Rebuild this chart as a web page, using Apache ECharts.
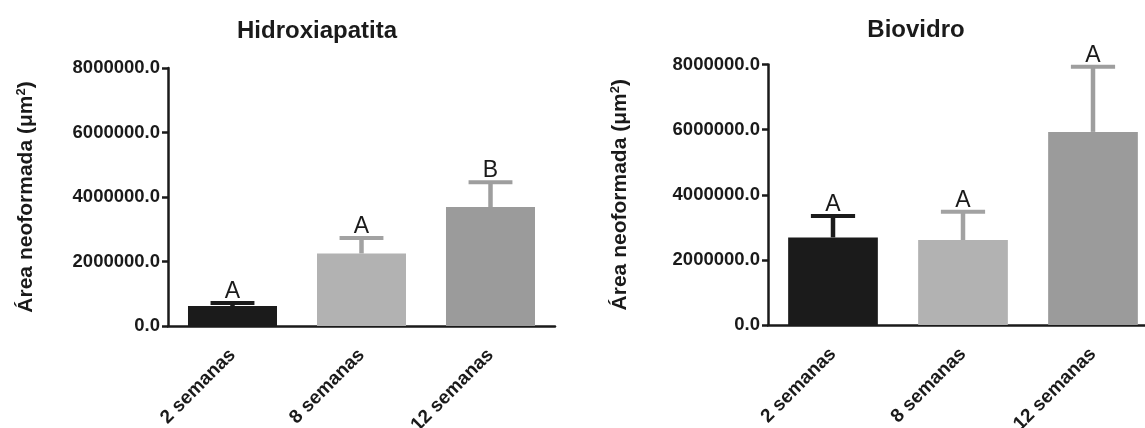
<!DOCTYPE html>
<html><head><meta charset="utf-8">
<script src="https://cdn.jsdelivr.net/npm/echarts@6/dist/echarts.min.js"></script>
<style>html,body{margin:0;padding:0;background:#fff}#c{width:1145px;height:428px}</style>
</head><body><div id="c"></div>
<script>
const categories = ['2 semanas', '8 semanas', '12 semanas'];
const hidroxMeans = [620000, 2250000, 3690000];
const hidroxErrors = [93000, 480000, 770000];
const hidroxLetters = ['A', 'A', 'B'];
const biovidroMeans = [2690000, 2610000, 5930000];
const biovidroErrors = [655000, 870000, 2000000];
const biovidroLetters = ['A', 'A', 'A'];
const yTicks = [0, 2000000, 4000000, 6000000, 8000000];
const titles = ['Hidroxiapatita', 'Biovidro'];
const yName = 'Área neoformada (μm{s|2})';

const barColors = ['#1b1b1b', '#b2b2b2', '#9b9b9b'];
const errColors = ['#1b1b1b', '#a2a2a2', '#9e9e9e'];
const FONT = "'Liberation Sans', Arial, Helvetica, sans-serif";
const INK = '#1a1a1a';

const chart = echarts.init(document.getElementById('c'), null, {renderer: 'canvas'});

function xAxisCfg(idx) {
  return {
    type: 'category', gridIndex: idx, data: categories,
    axisLine: {lineStyle: {color: INK, width: 2.5}},
    axisTick: {alignWithLabel: true, length: 9, lineStyle: {color: INK, width: 2.5}},
    axisLabel: {rotate: 45, margin: 26, fontFamily: FONT, fontWeight: 'bold', fontSize: 19, color: INK, interval: 0}
  };
}
function yAxisCfg(idx, gap) {
  return {
    type: 'value', gridIndex: idx,
    min: yTicks[0], max: yTicks[yTicks.length - 1], interval: yTicks[1] - yTicks[0],
    splitLine: {show: false},
    axisLine: {show: true, lineStyle: {color: INK, width: 2.5}},
    axisTick: {show: true, length: 6, lineStyle: {color: INK, width: 2.5}},
    axisLabel: {margin: 8, fontFamily: FONT, fontWeight: 'bold', fontSize: 18.5, color: INK,
      formatter: v => v.toFixed(1)},
    name: yName, nameLocation: 'middle', nameGap: gap, nameRotate: 90,
    nameTextStyle: {fontFamily: FONT, fontWeight: 'bold', fontSize: 21, color: INK,
      rich: {s: {fontFamily: FONT, fontWeight: 'bold', fontSize: 13, color: INK, verticalAlign: 'top', padding: [0, 0, 10, 0]}}}
  };
}
function barSeries(idx, means) {
  return {
    type: 'bar', xAxisIndex: idx, yAxisIndex: idx, barWidth: '69%', z: 2,
    data: means.map((m, i) => ({value: m, itemStyle: {color: barColors[i]}}))
  };
}
function errSeries(idx, means, errs, letters) {
  return {
    type: 'custom', xAxisIndex: idx, yAxisIndex: idx, z: 3, clip: false,
    data: means.map((m, i) => [i, m, m + errs[i]]),
    renderItem(params, api) {
      const i = api.value(0);
      const base = api.coord([i, api.value(1)]);
      const top = api.coord([i, api.value(2)]);
      const bw = api.size([1, 0])[0];
      const half = bw * 0.17;
      const c = errColors[i];
      return {type: 'group', children: [
        {type: 'line', shape: {x1: base[0], y1: base[1], x2: top[0], y2: top[1]}, style: {stroke: c, lineWidth: 4.5}},
        {type: 'line', shape: {x1: top[0] - half, y1: top[1], x2: top[0] + half, y2: top[1]}, style: {stroke: c, lineWidth: 4}},
        {type: 'text', x: top[0], y: top[1], style: {text: letters[i], fill: INK, font: '23px ' + FONT, align: 'center', verticalAlign: 'bottom'}}
      ]};
    }
  };
}

chart.setOption({
  animation: false,
  backgroundColor: '#ffffff',
  title: [
    {text: titles[0], left: 312, top: 14, textAlign: 'center', textStyle: {fontFamily: FONT, fontWeight: 'bold', fontSize: 24, color: INK}},
    {text: titles[1], left: 911, top: 13, textAlign: 'center', textStyle: {fontFamily: FONT, fontWeight: 'bold', fontSize: 24, color: INK}}
  ],
  grid: [
    {left: 168, top: 68, width: 387, height: 258, outerBoundsMode: 'none', containLabel: false},
    {left: 768, top: 64.5, width: 390, height: 260.5, outerBoundsMode: 'none', containLabel: false}
  ],
  xAxis: [xAxisCfg(0), xAxisCfg(1)],
  yAxis: [yAxisCfg(0, 130), yAxisCfg(1, 136)],
  series: [
    barSeries(0, hidroxMeans), errSeries(0, hidroxMeans, hidroxErrors, hidroxLetters),
    barSeries(1, biovidroMeans), errSeries(1, biovidroMeans, biovidroErrors, biovidroLetters)
  ]
});
</script>
</body></html>
